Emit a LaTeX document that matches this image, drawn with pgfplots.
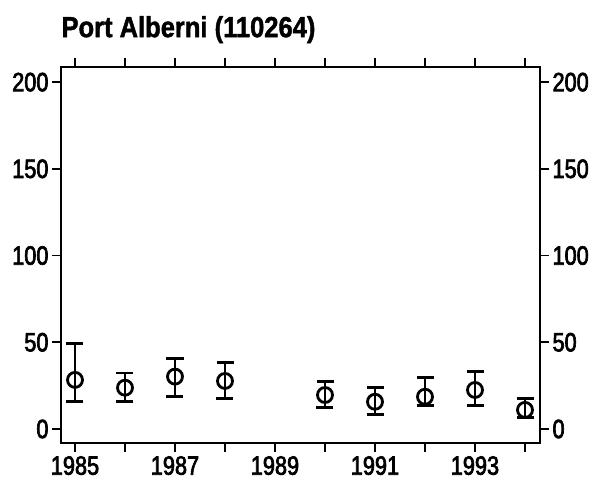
\documentclass[border=0pt]{standalone}
\usepackage{pgfplots}
\pgfplotsset{compat=1.18}
\usepackage{fontspec}
\setmainfont[FakeStretch=0.82]{Liberation Sans}
\newfontfamily\tickfont[FakeStretch=0.82, FakeBold=2.5]{Liberation Sans}
\newfontfamily\titlefont[FakeStretch=0.88, FakeBold=1.5]{Liberation Sans}

\begin{document}
\begin{tikzpicture}
\pgfplotsset{
  common/.style={
    scale only axis,
    width=479pt,
    height=376pt,
    xmin=1984.72, xmax=1994.3,
    ymin=-7.9, ymax=208.9,
    ytick={0,50,100,150,200},
    axis line style={line width=1.8pt},
    tick style={line width=1.8pt, black},
    major tick length=9pt,
    tick align=outside,
    tick label style={font=\tickfont\fontsize{26.5}{30}\selectfont},
    /pgf/number format/assume math mode=true,
    /pgf/number format/1000 sep={},
  }
}
\begin{axis}[
  common,
  xtick={1985,...,1994},
  xticklabels={1985,,1987,,1989,,1991,,1993,},
  xtick pos=both,
  ytick pos=left,
  xticklabel style={yshift=-1pt},
  title={\titlefont\bfseries\fontsize{29}{33}\selectfont Port Alberni (110264)},
  title style={anchor=south west, at={(rel axis cs:0,1)}, xshift=-3pt, yshift=14pt},
]
  \addplot[black, line width=2.8pt, only marks, mark=o, mark size=7.5pt,
    error bars/.cd, y dir=both, y explicit,
    error bar style={line width=2.9pt},
    error mark options={line width=2.9pt, mark size=8.5pt, rotate=90}]
  coordinates {
    (1985,28.3) += (0,21.1) -= (0,12.2)
    (1986,23.8) += (0,8.5) -= (0,7.7)
    (1987,30.2) += (0,10.3) -= (0,11.3)
    (1988,27.7) += (0,10.7) -= (0,10.2)
    (1990,19.6) += (0,7.9) -= (0,7.3)
    (1991,15.7) += (0,8.3) -= (0,7.6)
    (1992,18.6) += (0,11.2) -= (0,5.3)
    (1993,22.5) += (0,10.4) -= (0,9.2)
    (1994,11.0) += (0,6.5) -= (0,4.3)
  };
\end{axis}
\begin{axis}[
  common,
  hide x axis,
  ytick pos=right,
  yticklabel pos=right,
]
\end{axis}
\path (current axis.south west) ++(-61pt,-40.3pt) coordinate (bl);
\path (current axis.north east) ++(55pt,66.7pt) coordinate (tr);
\path (bl) rectangle (tr);
\end{tikzpicture}
\end{document}
